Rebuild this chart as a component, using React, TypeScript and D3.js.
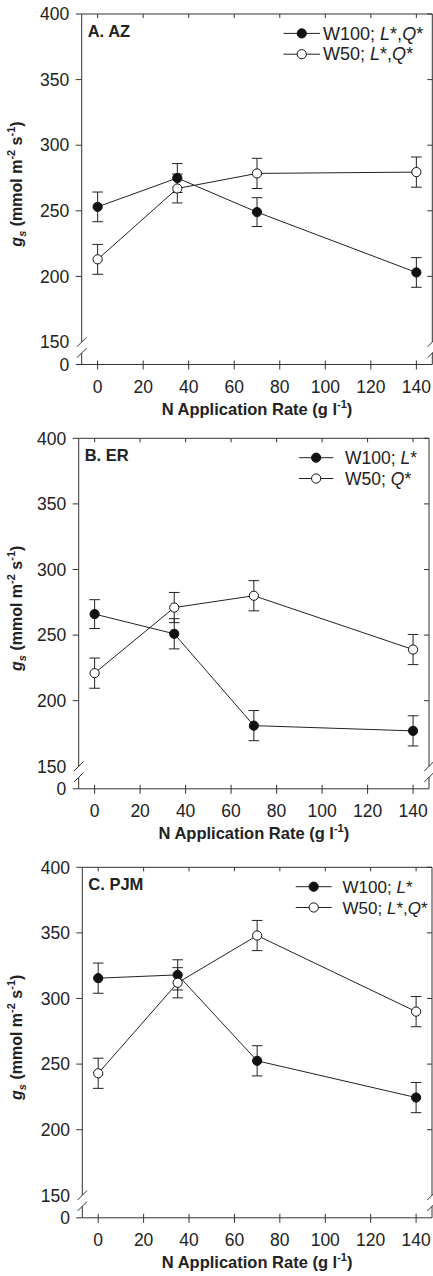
import React from "react";
import * as d3 from "d3";

const nRates = [0, 35, 70, 140];
const xTicks = [0, 20, 40, 60, 80, 100, 120, 140];
const yTicks = [200, 250, 300, 350, 400];
const yLabelTicks = [150, 200, 250, 300, 350, 400];

const azW100 = [253, 275, 249, 203];
const azW100Err = [11.3, 11, 11, 11.3];
const azW50 = [213, 267, 278.5, 279.5];
const azW50Err = [11.4, 11, 11.5, 11.5];

const erW100 = [266, 251, 181, 177];
const erW100Err = [11, 11.5, 11.5, 11.5];
const erW50 = [221, 271, 280, 239];
const erW50Err = [11.5, 11.5, 11.5, 11.5];

const pjmW100 = [315.5, 318, 252.5, 224.5];
const pjmW100Err = [11.5, 11.5, 11.5, 11.5];
const pjmW50 = [243, 312, 348, 290];
const pjmW50Err = [11.5, 11.5, 11.5, 11.5];

const panelTitles = ["A. AZ", "B. ER", "C. PJM"];
const legendW100 = ["W100; L*,Q*", "W100; L*", "W100; L*"];
const legendW50 = ["W50; L*,Q*", "W50; Q*", "W50; L*,Q*"];

const FONT = "'Liberation Sans', Arial, Helvetica, sans-serif";
const AX = "#333";

const layouts = [
  { left: 81.7, right: 432.3, top: 14, lx0: 283.5, lx1: 320, tx: 323, fs: 18 },
  { left: 78.7, right: 429, top: 438.3, lx0: 299, lx1: 333.3, tx: 345, fs: 17.5 },
  { left: 82.3, right: 432, top: 867.3, lx0: 295.7, lx1: 331.7, tx: 342.5, fs: 17 },
];

function LegendText({ x, y, label, fs }: { x: number; y: number; label: string; fs: number }) {
  const parts = label.split("");
  return (
    <text x={x} y={y} fontSize={fs} fontFamily={FONT} fill="#222">
      {parts.map((c, i) =>
        c === "L" || c === "Q" ? (
          <tspan key={i} fontStyle="italic">{c}</tspan>
        ) : (
          <tspan key={i}>{c}</tspan>
        )
      )}
    </text>
  );
}

function Panel({ idx, w100, w100e, w50, w50e }: any) {
  const L = layouts[idx];
  const top = L.top;
  const y150 = top + 328;
  const y0 = y150 + 22.5;
  const x = d3.scaleLinear().domain([-7, 147]).range([L.left, L.right]);
  const y = d3.scaleLinear().domain([150, 400]).range([y150, top]);
  const yPos = (v: number) => (v === 0 ? y0 : y(v));
  const line = d3
    .line<number>()
    .x((_, i) => x(nRates[i]))
    .y((d) => y(d));
  const brk = 11;
  const slash = (cx: number, cy: number) =>
    `M${cx - 4.7},${cy + 4.7}L${cx + 4.7},${cy - 4.7}`;

  const series = [
    { vals: w100, errs: w100e, fill: "#111" },
    { vals: w50, errs: w50e, fill: "#fff" },
  ];

  return (
    <g>
      <line x1={L.left} x2={L.right} y1={top} y2={top} stroke={AX} />
      <line x1={L.left} x2={L.right} y1={y0} y2={y0} stroke={AX} />
      <line x1={L.left} x2={L.left} y1={top} y2={y150} stroke={AX} />
      <line x1={L.left} x2={L.left} y1={y150 + brk} y2={y0} stroke={AX} />
      <line x1={L.right} x2={L.right} y1={top} y2={y150} stroke={AX} />
      <line x1={L.right} x2={L.right} y1={y150 + brk} y2={y0} stroke={AX} />
      <path d={slash(L.left, y150)} stroke={AX} />
      <path d={slash(L.left, y150 + brk)} stroke={AX} />
      <path d={slash(L.right, y150)} stroke={AX} />
      <path d={slash(L.right, y150 + brk)} stroke={AX} />
      {xTicks.map((t) => (
        <g key={t}>
          <line x1={x(t)} x2={x(t)} y1={y0 - 4} y2={y0 + 5} stroke={AX} />
          <line x1={x(t)} x2={x(t)} y1={top} y2={top + 4} stroke={AX} />
          <text
            x={x(t)}
            y={y0 + 28.5}
            textAnchor="middle"
            fontSize={17.5}
            fontFamily={FONT}
            fill="#222"
          >
            {t}
          </text>
        </g>
      ))}
      {yTicks.map((t) => (
        <g key={t}>
          <line x1={L.left - 6} x2={L.left} y1={y(t)} y2={y(t)} stroke={AX} />
          <line x1={L.right - 5} x2={L.right} y1={y(t)} y2={y(t)} stroke={AX} />
        </g>
      ))}
      <line x1={L.left - 6} x2={L.left} y1={y0} y2={y0} stroke={AX} />
      {[...yLabelTicks, 0].map((t) => (
        <text
          key={t}
          x={L.left - 12.4}
          y={yPos(t) + 6.2}
          textAnchor="end"
          fontSize={17.5}
          fontFamily={FONT}
          fill="#222"
        >
          {t}
        </text>
      ))}
      <text
        x={(L.left + L.right) / 2}
        y={y0 + 50}
        textAnchor="middle"
        fontSize={16.5}
        fontWeight="bold"
        fontFamily={FONT}
        fill="#222"
      >
        N Application Rate (g l
        <tspan dy={-7} fontSize={11}>-1</tspan>
        <tspan dy={7}>)</tspan>
      </text>
      <text
        transform={`translate(21.5,${top + 170}) rotate(-90)`}
        textAnchor="middle"
        fontSize={16}
        fontWeight="bold"
        fontFamily={FONT}
        fill="#222"
      >
        <tspan fontStyle="italic">g</tspan>
        <tspan dy={4} fontSize={11} fontStyle="italic">s</tspan>
        <tspan dy={-4}> (mmol m</tspan>
        <tspan dy={-7} fontSize={11}>-2</tspan>
        <tspan dy={7}> s</tspan>
        <tspan dy={-7} fontSize={11}>-1</tspan>
        <tspan dy={7}>)</tspan>
      </text>
      <text
        x={L.left + 6}
        y={top + 22.5}
        fontSize={16.5}
        fontWeight="bold"
        fontFamily={FONT}
        fill="#222"
      >
        {panelTitles[idx]}
      </text>
      {series.map((s, si) => (
        <g key={si}>
          <path d={line(s.vals) || ""} fill="none" stroke="#222" strokeWidth={1} />
          {s.vals.map((v: number, i: number) => {
            const cx = x(nRates[i]);
            const e = s.errs[i];
            return (
              <g key={i} stroke="#222" strokeWidth={1}>
                <line x1={cx} x2={cx} y1={y(v + e)} y2={y(v - e)} />
                <line x1={cx - 5.3} x2={cx + 5.3} y1={y(v + e)} y2={y(v + e)} />
                <line x1={cx - 5.3} x2={cx + 5.3} y1={y(v - e)} y2={y(v - e)} />
              </g>
            );
          })}
        </g>
      ))}
      {series.map((s, si) => (
        <g key={"m" + si}>
          {s.vals.map((v: number, i: number) => (
            <circle
              key={i}
              cx={x(nRates[i])}
              cy={y(v)}
              r={4.6}
              fill={s.fill}
              stroke="#111"
              strokeWidth={1}
            />
          ))}
        </g>
      ))}
      {[legendW100[idx], legendW50[idx]].map((lab, i) => {
        const ly = top + 19.4 + i * 20.8;
        return (
          <g key={i}>
            <line x1={L.lx0} x2={L.lx1} y1={ly} y2={ly} stroke="#222" />
            <circle
              cx={(L.lx0 + L.lx1) / 2}
              cy={ly}
              r={4.6}
              fill={i === 0 ? "#111" : "#fff"}
              stroke="#111"
            />
            <LegendText x={L.tx} y={ly + 6.2} label={lab} fs={L.fs} />
          </g>
        );
      })}
    </g>
  );
}

export default function App() {
  return (
    <svg
      width={433}
      height={1276}
      style={{ position: "absolute", left: 0, top: 0, background: "#fff" }}
    >
      <rect width={433} height={1276} fill="#fff" />
      <Panel idx={0} w100={azW100} w100e={azW100Err} w50={azW50} w50e={azW50Err} />
      <Panel idx={1} w100={erW100} w100e={erW100Err} w50={erW50} w50e={erW50Err} />
      <Panel idx={2} w100={pjmW100} w100e={pjmW100Err} w50={pjmW50} w50e={pjmW50Err} />
    </svg>
  );
}
